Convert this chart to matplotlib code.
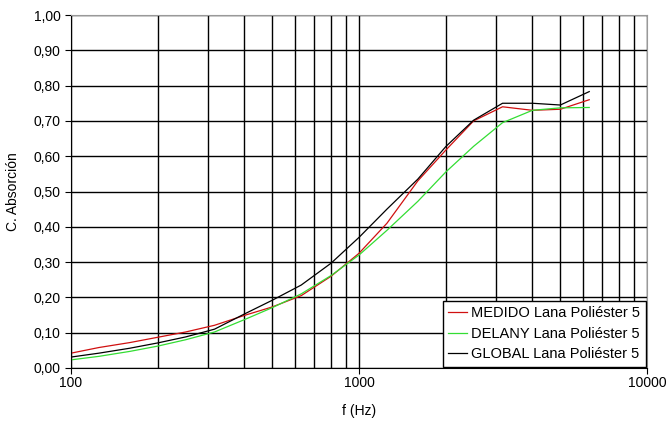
import numpy as np
import matplotlib.pyplot as plt
from matplotlib.ticker import FixedLocator, NullFormatter

plt.rcParams['font.family'] = ['Liberation Sans', 'DejaVu Sans']

freq = [100, 125, 160, 200, 250, 315, 400, 500, 630, 800, 1000,
        1250, 1600, 2000, 2500, 3150, 4000, 5000, 6300]

medido = [0.042, 0.058, 0.072, 0.087, 0.102, 0.121, 0.149, 0.173, 0.205, 0.260, 0.325,
          0.410, 0.530, 0.617, 0.700, 0.740, 0.730, 0.733, 0.760]
delany = [0.023, 0.033, 0.047, 0.062, 0.080, 0.102, 0.137, 0.171, 0.210, 0.262, 0.320,
          0.390, 0.472, 0.555, 0.628, 0.695, 0.730, 0.737, 0.738]
global_ = [0.031, 0.042, 0.056, 0.071, 0.088, 0.110, 0.153, 0.192, 0.235, 0.297, 0.370,
           0.450, 0.535, 0.627, 0.702, 0.750, 0.750, 0.745, 0.783]

labels = ['MEDIDO Lana Poliéster 5', 'DELANY Lana Poliéster 5', 'GLOBAL Lana Poliéster 5']

fig = plt.figure(figsize=(6.68, 4.30), dpi=100)
ax = fig.add_axes([0.1063, 0.1442, 0.8623, 0.8209])

ax.plot(freq, medido, color='#d01010', lw=0.9, label=labels[0])
ax.plot(freq, delany, color='#33dd33', lw=0.9, label=labels[1])
ax.plot(freq, global_, color='#000000', lw=0.9, label=labels[2])

ax.set_xscale('log')
ax.set_xlim(100, 10000)
ax.set_ylim(0, 1)

ax.xaxis.set_major_locator(FixedLocator([100, 1000, 10000]))
ax.set_xticklabels(['100', '1000', '10000'])
minors = [m * d for d in (100, 1000) for m in range(2, 10)]
ax.xaxis.set_minor_locator(FixedLocator(minors))
ax.xaxis.set_minor_formatter(NullFormatter())

yt = np.arange(0, 1.01, 0.1)
ax.set_yticks(yt)
ax.set_yticklabels([f'{v:.2f}'.replace('.', ',') for v in yt])

ax.grid(True, which='both', color='black', lw=1.0)
ax.set_axisbelow(True)
ax.tick_params(axis='both', which='major', labelsize=10, length=4, color='black', direction='out')
ax.tick_params(axis='x', which='minor', length=0)
ax.tick_params(axis='x', pad=2)

for s in ['top', 'right']:
    ax.spines[s].set_color('#999999')
    ax.spines[s].set_linewidth(0.8)
for s in ['left', 'bottom']:
    ax.spines[s].set_color('black')

ax.set_xlabel('f (Hz)', fontsize=10, labelpad=10)
ax.set_ylabel('C. Absorción', fontsize=10, labelpad=10)

leg = ax.legend(loc='lower right', fontsize=10.5, frameon=True, fancybox=False,
                edgecolor='black', framealpha=1, borderaxespad=0.1,
                handlelength=1.3, handletextpad=0.3, borderpad=0.35, labelspacing=0.45)
leg.get_frame().set_linewidth(1.0)

plt.savefig('out.png', dpi=100)
